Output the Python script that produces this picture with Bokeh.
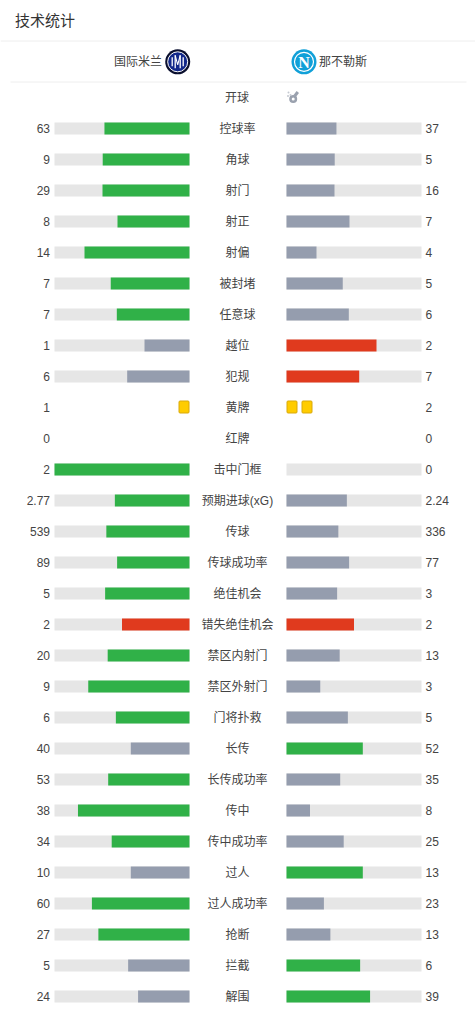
from bokeh.plotting import figure
from bokeh.models import Range1d
from bokeh.core.properties import value
from bokeh.embed import file_html
from bokeh.resources import INLINE

categories = ["控球率", "角球", "射门", "射正", "射偏", "被封堵", "任意球", "越位", "犯规", "黄牌", "红牌",
              "击中门框", "预期进球(xG)", "传球", "传球成功率", "绝佳机会", "错失绝佳机会", "禁区内射门",
              "禁区外射门", "门将扑救", "长传", "长传成功率", "传中", "传中成功率", "过人", "过人成功率",
              "抢断", "拦截", "解围"]
home_values = [63, 9, 29, 8, 14, 7, 7, 1, 6, 1, 0, 2, 2.77, 539, 89, 5, 2, 20, 9, 6, 40, 53, 38, 34, 10, 60, 27, 5, 24]
away_values = [37, 5, 16, 7, 4, 5, 6, 2, 7, 2, 0, 0, 2.24, 336, 77, 3, 2, 13, 3, 5, 52, 35, 8, 25, 13, 23, 13, 6, 39]
# g = green, s = slate, r = red, n = no bar
home_tone = ["g", "g", "g", "g", "g", "g", "g", "s", "s", "n", "n", "g", "g", "g", "g", "g", "r", "g", "g", "g",
             "s", "g", "g", "g", "s", "g", "g", "s", "s"]
away_tone = ["s", "s", "s", "s", "s", "s", "s", "r", "r", "n", "n", "s", "s", "s", "s", "s", "r", "s", "s", "s",
             "g", "s", "s", "s", "g", "s", "s", "g", "g"]
title = "技术统计"
home_team = "国际米兰"
away_team = "那不勒斯"
kickoff_label = "开球"

TONES = {"g": "#30b148", "s": "#959dae", "r": "#e03a1e"}
TRACK = "#e6e6e6"
FONT = value("Liberation Sans, Noto Sans CJK SC")
INK = "#444444"
L0, L1, R0, R1 = 54, 189, 286, 421
W = R1 - R0
FIRST_Y, STEP = 128, 31

p = figure(x_range=Range1d(0, 475), y_range=Range1d(1012, 0), width=475, height=1012,
           output_backend="svg", toolbar_location=None, min_border=0, outline_line_color=None)
p.axis.visible = False
p.grid.visible = False

rows_y, hs, aws, hc, ac, tr_y, lab_h, lab_a = [], [], [], [], [], [], [], []
cards_h_x, cards_h_y, cards_a_x, cards_a_y = [], [], [], []
for i, (c, h, a, th, ta) in enumerate(zip(categories, home_values, away_values, home_tone, away_tone)):
    y = FIRST_Y + STEP * i
    rows_y.append(y)
    lab_h.append(str(h))
    lab_a.append(str(a))
    if c == "黄牌":
        for k in range(h):
            cards_h_x.append(L1 - 5.5 - 15 * k); cards_h_y.append(y - 0.5)
        for k in range(a):
            cards_a_x.append(R0 + 5.5 + 15 * k); cards_a_y.append(y - 0.5)
        continue
    if c == "红牌":
        continue
    tr_y.append(y)
    tot = h + a
    if h > 0:
        hs.append((L1 - W * h / tot, L1, y)); hc.append(TONES[th])
    if a > 0:
        aws.append((R0, R0 + W * a / tot, y)); ac.append(TONES[ta])

# tracks
p.hbar(y=tr_y, left=L0, right=L1, height=12, fill_color=TRACK, line_color=None)
p.hbar(y=tr_y, left=R0, right=R1, height=12, fill_color=TRACK, line_color=None)
# value bars
p.hbar(y=[t[2] for t in hs], left=[t[0] for t in hs], right=[t[1] for t in hs], height=12, fill_color=hc, line_color=None)
p.hbar(y=[t[2] for t in aws], left=[t[0] for t in aws], right=[t[1] for t in aws], height=12, fill_color=ac, line_color=None)
# yellow cards
for xs, ys in ((cards_h_x, cards_h_y), (cards_a_x, cards_a_y)):
    p.rect(x=xs, y=ys, width=10, height=12, fill_color="#ffcc00", line_color="#d9a90a", line_width=1, border_radius=1)

txt = dict(text_font=FONT, text_font_size="12px", text_color=INK, text_baseline="middle")
p.text(x=[237] * len(rows_y), y=rows_y, text=categories, text_align="center", **txt)
p.text(x=[49.5] * len(rows_y), y=rows_y, text=lab_h, text_align="right", **txt)
p.text(x=[425] * len(rows_y), y=rows_y, text=lab_a, text_align="left", **txt)
p.text(x=[236.5], y=[97], text=[kickoff_label], text_align="center", **txt)
p.text(x=[14.5], y=[20], text=[title], text_align="left", text_font=FONT, text_font_size="15px",
       text_color="#333333", text_baseline="middle")
p.text(x=[161.5], y=[61], text=[home_team], text_align="right", **txt)
p.text(x=[318.5], y=[61], text=[away_team], text_align="left", **txt)

# dividers
p.line(x=[0, 475], y=[40.5, 40.5], line_color="#eeeeee", line_width=1)
p.line(x=[10, 466], y=[81.5, 81.5], line_color="#eeeeee", line_width=1)

# Inter crest
cx, cy = 177.2, 61.3
p.scatter(x=[cx], y=[cy], size=25, marker="circle", fill_color="#0a0f2e", line_color=None)
p.scatter(x=[cx], y=[cy], size=20, marker="circle", fill_color="#12288a", line_color="#ffffff", line_width=1)
for dx, hh in ((-5.5, 4.5), (5.5, 4.5), (-2.5, 6.5), (2.5, 6.5)):
    p.line(x=[cx + dx, cx + dx], y=[cy - hh, cy + hh], line_color="#ffffff", line_width=1.3)
p.line(x=[cx - 2.5, cx, cx + 2.5], y=[cy - 6.5, cy + 3, cy - 6.5], line_color="#ffffff", line_width=1.1)

# Napoli crest
nx, ny = 303.5, 61.3
p.scatter(x=[nx], y=[ny], size=25, marker="circle", fill_color="#10a0d8", line_color=None)
p.scatter(x=[nx], y=[ny], size=19, marker="circle", fill_color="#10a0d8", line_color="#ffffff", line_width=1.2)
p.text(x=[nx], y=[ny + 0.5], text=["N"], text_align="center", text_baseline="middle",
       text_font=value("Liberation Serif"), text_font_style="bold", text_font_size="16px", text_color="#ffffff")

# whistle
wcol = "#9aa1ae"
p.scatter(x=[292.7], y=[98.5], size=5.5, marker="circle", fill_color=None, line_color=wcol, line_width=2.5)
p.line(x=[294.2, 297.3], y=[95.5, 91.5], line_color=wcol, line_width=3)
p.scatter(x=[288, 290, 287.5], y=[92, 94.5, 95.5], size=2, marker="circle", fill_color="#c4c8d0", line_color=None)

open("out.html", "w").write(file_html(p, INLINE))
